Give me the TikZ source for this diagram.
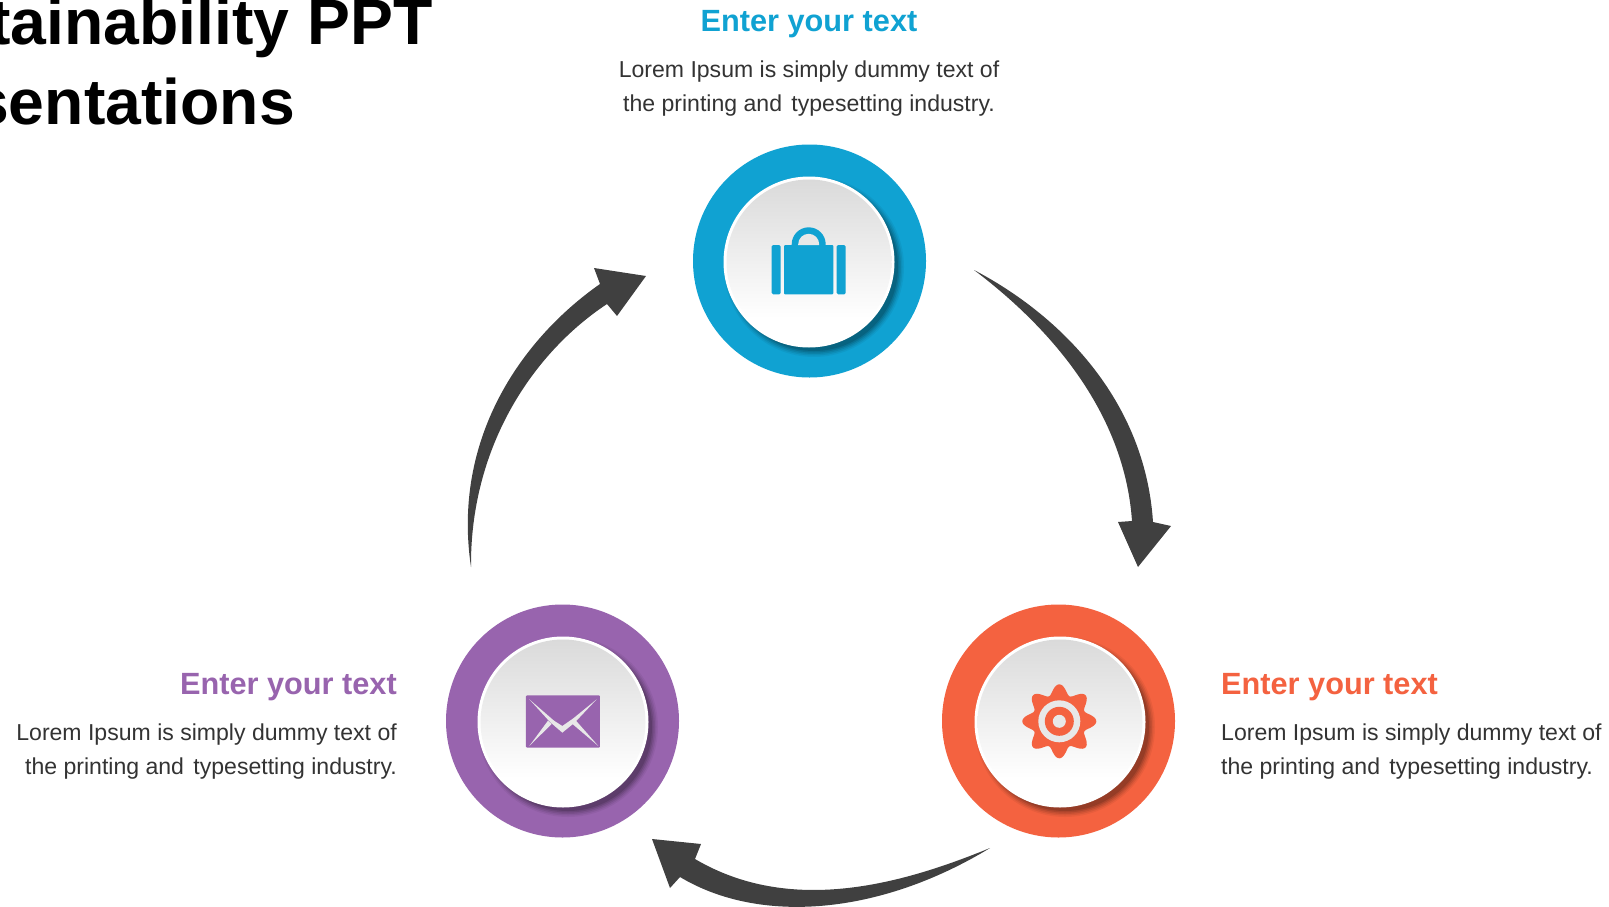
\documentclass[tikz,border=0pt]{standalone}
\usepackage{fontspec}
\setmainfont{Liberation Sans}
\definecolor{cblue}{HTML}{10A2D2}
\definecolor{corange}{HTML}{F46240}
\definecolor{cpurple}{HTML}{9864AE}
\definecolor{carrow}{HTML}{404040}
\definecolor{ctext}{HTML}{333333}
\definecolor{cgrey}{HTML}{DADADA}
\definecolor{clight}{HTML}{E8E8E8}
\pgfdeclareverticalshading{discshade}{100bp}{color(0bp)=(white);color(33bp)=(white);color(75bp)=(cgrey);color(100bp)=(cgrey)}
\tikzset{
  heading/.style={font=\bfseries\fontsize{30.7}{34}\selectfont,inner sep=0pt},
  bodytext/.style={font=\fontsize{23.05}{34}\selectfont,text=ctext,inner sep=0pt},
  titletext/.style={font=\bfseries\fontsize{64.3}{79}\selectfont,text=black,inner sep=0pt},
  ring/.style={circle,minimum size=233pt,inner sep=0pt},
  flow/.style={fill=carrow,draw=none}
}
\newcommand{\discat}[2]{%
  \foreach \r/\o in {90/.05,88.5/.07,87/.09,85.5/.11,84/.13}
    \fill[black,opacity=\o] (#1+5,#2+5) circle[radius=\r];
  \fill[white] (#1,#2) circle[radius=85.5];
  \shade[shading=discshade] (#1,#2) circle[radius=82.5];
}
\begin{document}
\begin{tikzpicture}[x=1pt,y=-1pt]
\useasboundingbox (0,0) rectangle (1609,907);
\fill[white] (0,0) rectangle (1609,907);

% title
\node[titletext,anchor=base east] (title1) at (432.5,45) {tainability PPT};
\node[titletext,anchor=base east] (title2) at (295,124) {sentations};

% rings
\node[ring,fill=cblue] (topring) at (809.5,261) {};
\node[ring,fill=corange] (rightring) at (1058.5,721) {};
\node[ring,fill=cpurple] (leftring) at (562.5,721) {};
\discat{809}{262}
\discat{1060}{722}
\discat{563}{722}

% bag icon
\fill[cblue,rounded corners=1.5pt] (771.7,245) rectangle (780.7,294.3);
\fill[cblue,rounded corners=1pt] (784,245) rectangle (833.3,294.3);
\fill[cblue,rounded corners=1.5pt] (836.7,245) rectangle (845.7,294.3);
\fill[cblue] (791.7,246) -- (791.7,244.3) arc[start angle=180,end angle=0,radius=17,y radius=-17] -- (825.7,246) -- cycle;
\fill[clight] (798.2,245) -- (798.2,244.3) arc[start angle=180,end angle=0,radius=10.5,y radius=-10.5] -- (819.2,245) -- cycle;

% gear icon
\fill[corange] plot[domain=0:360,samples=145,smooth] ({1059.3+(32+5*cos(8*\x))*cos(\x)},{721.3+(32+5*cos(8*\x))*sin(\x)}) -- cycle;
\fill[clight] (1059.3,721.3) circle[radius=21];
\fill[corange] (1059.3,721.3) circle[radius=14.5];
\fill[clight] (1059.3,721.3) circle[radius=6.5];

% envelope icon
\begin{scope}[shift={(430,590)},x=.3333pt,y=-.3333pt]
  \fill[cpurple,rounded corners=1pt] (288,316) rectangle (510,473);
  \fill[clight] (298,328) -- (372,392) -- (397,408) -- (430,385) -- (500,328) -- (434,398) -- (397,428) -- (360,396) -- cycle;
  \fill[clight] (298,468) -- (354,392) -- (365,402) -- cycle;
  \fill[clight] (505,468) -- (425,400) -- (438,392) -- cycle;
\end{scope}

% arrows
\fill[flow] (974,270) .. controls (1060,315) and (1145,400) .. (1153,522)
  -- (1171,526) -- (1138,567) -- (1118,522) -- (1132,521)
  .. controls (1125,420) and (1060,335) .. (974,270) -- cycle;
\fill[flow] (990,848) .. controls (900,885) and (790,915) .. (695,859)
  -- (701,844) -- (652,839) -- (670,888) -- (680,877)
  .. controls (760,925) and (880,915) .. (990,848) -- cycle;
\fill[flow] (471,567) .. controls (452,440) and (520,340) .. (600,284)
  -- (594,268) -- (646,276) -- (617,316) -- (607,304)
  .. controls (530,355) and (470,450) .. (471,567) -- cycle;

% texts
\node[heading,text=cblue,anchor=base] (h1) at (809,32) {Enter your text};
\node[bodytext,anchor=north,align=center] (b1) at (809,60.5) {Lorem Ipsum is simply dummy text of\\the printing and\hspace{3pt} typesetting industry.};
\node[heading,text=corange,anchor=base west] (h2) at (1221,694) {Enter your text};
\node[bodytext,anchor=north west,align=left] (b2) at (1221,723.5) {Lorem Ipsum is simply dummy text of\\the printing and\hspace{3pt} typesetting industry.};
\node[heading,text=cpurple,anchor=base east] (h3) at (397,694) {Enter your text};
\node[bodytext,anchor=north east,align=right] (b3) at (397,723.5) {Lorem Ipsum is simply dummy text of\\the printing and\hspace{3pt} typesetting industry.};
\end{tikzpicture}
\end{document}
